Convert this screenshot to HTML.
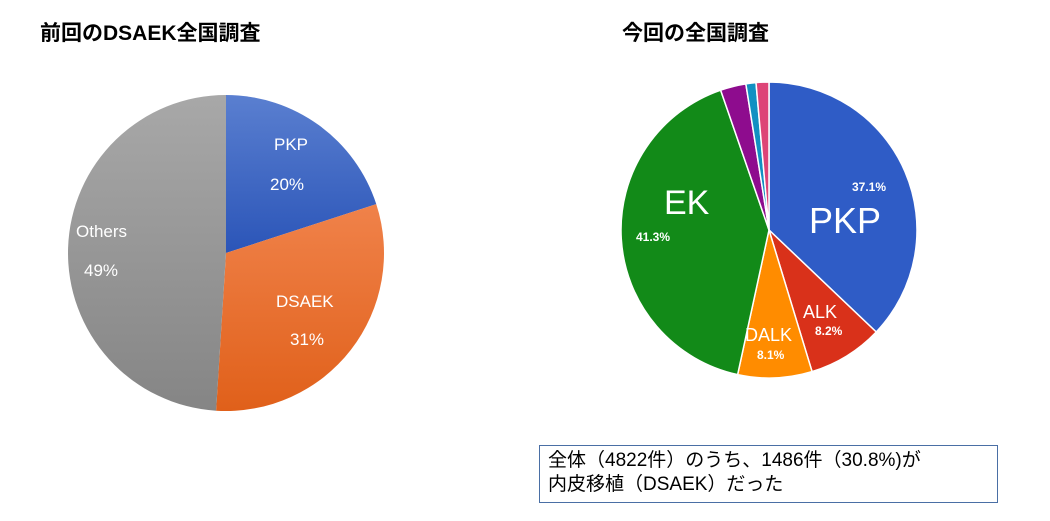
<!DOCTYPE html>
<html><head><meta charset="utf-8"><style>
body{margin:0;background:#fff;width:1050px;height:521px;overflow:hidden;font-family:"Liberation Sans","Noto Sans CJK JP",sans-serif}
svg{position:absolute;left:0;top:0}
.box{position:absolute;left:539px;top:445px;width:459px;height:58px;border:1px solid #4a6fa5;box-sizing:border-box;font-size:19px;line-height:24px;padding:3px 0 0 8px;color:#000}
</style></head><body>
<svg id="chart" width="1050" height="521">
<defs>
<linearGradient id="gBlue" x1="0" y1="0" x2="0" y2="1"><stop offset="0" stop-color="#5a7fd0"/><stop offset="1" stop-color="#2b55b8"/></linearGradient>
<linearGradient id="gOrange" x1="0" y1="0" x2="0" y2="1"><stop offset="0" stop-color="#f0824a"/><stop offset="1" stop-color="#e0601a"/></linearGradient>
<linearGradient id="gGray" x1="0" y1="0" x2="0" y2="1"><stop offset="0" stop-color="#a8a8a8"/><stop offset="1" stop-color="#858585"/></linearGradient>
</defs>
<text x="40" y="40" font-size="21" font-weight="bold" font-family="Liberation Sans, Noto Sans CJK JP, sans-serif">前回のDSAEK全国調査</text>
<text x="622" y="40" font-size="21" font-weight="bold" font-family="Liberation Sans, Noto Sans CJK JP, sans-serif">今回の全国調査</text>
<g id="left"></g><g id="right"></g>
<g fill="#fff" font-size="17">
<text x="274" y="150">PKP</text>
<text x="270" y="190">20%</text>
<text x="276" y="307">DSAEK</text>
<text x="290" y="345">31%</text>
<text x="76" y="237">Others</text>
<text x="84" y="276">49%</text>
<text x="809" y="233" font-size="36">PKP</text>
<text x="852" y="191" font-size="12" font-weight="bold">37.1%</text>
<text x="803" y="318" font-size="18">ALK</text>
<text x="815" y="335" font-size="12" font-weight="bold">8.2%</text>
<text x="745" y="341" font-size="18">DALK</text>
<text x="757" y="359" font-size="12" font-weight="bold">8.1%</text>
<text x="664" y="214" font-size="34">EK</text>
<text x="636" y="241" font-size="12" font-weight="bold">41.3%</text>
</g>
</svg>
<div class="box">全体（4822件）のうち、1486件（30.8%)が<br>内皮移植（DSAEK）だった</div>
<script>
const prevCategories=["PKP","DSAEK","Others"];
const prevValues=[20,31,49];
const prevColors=["url(#gBlue)","url(#gOrange)","url(#gGray)"];
const curCategories=["PKP","ALK","DALK","EK","Other1","Other2","Other3"];
const curValues=[37.1,8.2,8.1,41.3,2.8,1.1,1.4];
const curColors=["#2f5cc6","#d9311a","#ff8c00","#128a18","#8e0c8e","#1290c2","#dd4477"];
const NS="http://www.w3.org/2000/svg";
function drawPie(g,cx,cy,r,vals,cols,cats,stroke){
  const tot=vals.reduce((a,b)=>a+b,0);let a0=-Math.PI/2;
  vals.forEach((v,i)=>{
    const a1=a0+v/tot*2*Math.PI;
    const x0=cx+r*Math.cos(a0),y0=cy+r*Math.sin(a0),x1=cx+r*Math.cos(a1),y1=cy+r*Math.sin(a1);
    const p=document.createElementNS(NS,"path");
    p.setAttribute("d",`M${cx},${cy}L${x0},${y0}A${r},${r} 0 ${a1-a0>Math.PI?1:0} 1 ${x1},${y1}Z`);
    p.setAttribute("fill",cols[i]);
    if(stroke){p.setAttribute("stroke","#fff");p.setAttribute("stroke-width","1.5");}
    
    
    g.appendChild(p);a0=a1;
  });
}
drawPie(document.getElementById("left"),226,253,158,prevValues,prevColors,prevCategories,false);
drawPie(document.getElementById("right"),769,230,148,curValues,curColors,curCategories,true);
</script>
</body></html>
